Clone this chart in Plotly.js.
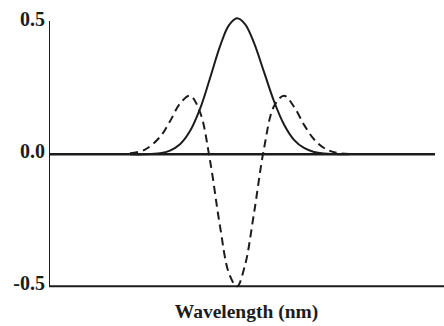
<!DOCTYPE html>
<html>
<head>
<meta charset="utf-8">
<script src="https://cdn.plot.ly/plotly-3.0.1.min.js"></script>
<style>
  html, body { margin: 0; padding: 0; background: #ffffff; }
  #chart { width: 444px; height: 326px; }
</style>
</head>
<body>
<div id="chart"></div>
<script>
// Wavelength samples (arbitrary units along the axis)
const wavelength = [81, 96, 111, 121, 131, 141, 151, 161, 171, 180, 188, 196, 205, 215, 225, 235, 245, 255, 265, 275, 285, 300];

// Absorption band (solid)
const band = [0.000, 0.000, 0.004, 0.014, 0.038, 0.088, 0.172, 0.288, 0.409, 0.489, 0.515, 0.493, 0.422, 0.312, 0.201, 0.113, 0.055, 0.024, 0.009, 0.003, 0.001, 0.000];

// Second derivative of the band (dashed)
const secondDeriv = [0.004, 0.018, 0.066, 0.125, 0.192, 0.222, 0.160, -0.023, -0.272, -0.451, -0.500, -0.420, -0.223, 0.022, 0.182, 0.222, 0.180, 0.112, 0.057, 0.024, 0.008, 0.001];

const yTickVals = [0.5, 0.0, -0.5];
const yTickText = ['0.5', '0.0', '-0.5'];

const ink = '#1c1c1c';
const serif = 'Liberation Serif, Times New Roman, serif';

const traces = [
  {
    x: wavelength, y: band, type: 'scatter', mode: 'lines',
    line: { color: ink, width: 2, shape: 'spline', smoothing: 1 },
    hoverinfo: 'skip'
  },
  {
    x: wavelength, y: secondDeriv, type: 'scatter', mode: 'lines',
    line: { color: ink, width: 2, dash: '8px,5px', shape: 'spline', smoothing: 1 },
    hoverinfo: 'skip'
  }
];

const layout = {
  width: 444, height: 326,
  margin: { l: 49, r: 0, t: 17, b: 37 },
  paper_bgcolor: '#ffffff', plot_bgcolor: '#ffffff',
  showlegend: false,
  xaxis: {
    range: [0, 395],
    showgrid: false, zeroline: false, showline: false,
    showticklabels: false, ticks: '',
    title: { text: '<b>Wavelength (nm)</b>', font: { family: serif, size: 19.5, color: ink }, standoff: 15 }
  },
  yaxis: {
    range: [-0.51, 0.52],
    showgrid: false, zeroline: false, showline: false,
    ticks: '', tickvals: yTickVals, ticktext: yTickText,
    ticklabelstandoff: 3, ticklabelshift: -3,
    tickfont: { family: serif, size: 20, color: ink, weight: 'bold' }
  },
  shapes: [
    // left axis
    { type: 'line', xref: 'x', yref: 'y', x0: 0, x1: 0, y0: -0.5, y1: 0.505, line: { color: ink, width: 2 } },
    // bottom axis
    { type: 'line', xref: 'paper', yref: 'y', x0: 0, x1: 1, y0: -0.5, y1: -0.5, line: { color: ink, width: 2 } },
    // zero baseline
    { type: 'line', xref: 'x', yref: 'y', x0: 0, x1: 386, y0: 0, y1: 0, line: { color: ink, width: 2.5 } }
  ]
};

Plotly.newPlot('chart', traces, layout, { staticPlot: true, displayModeBar: false });
</script>
</body>
</html>
